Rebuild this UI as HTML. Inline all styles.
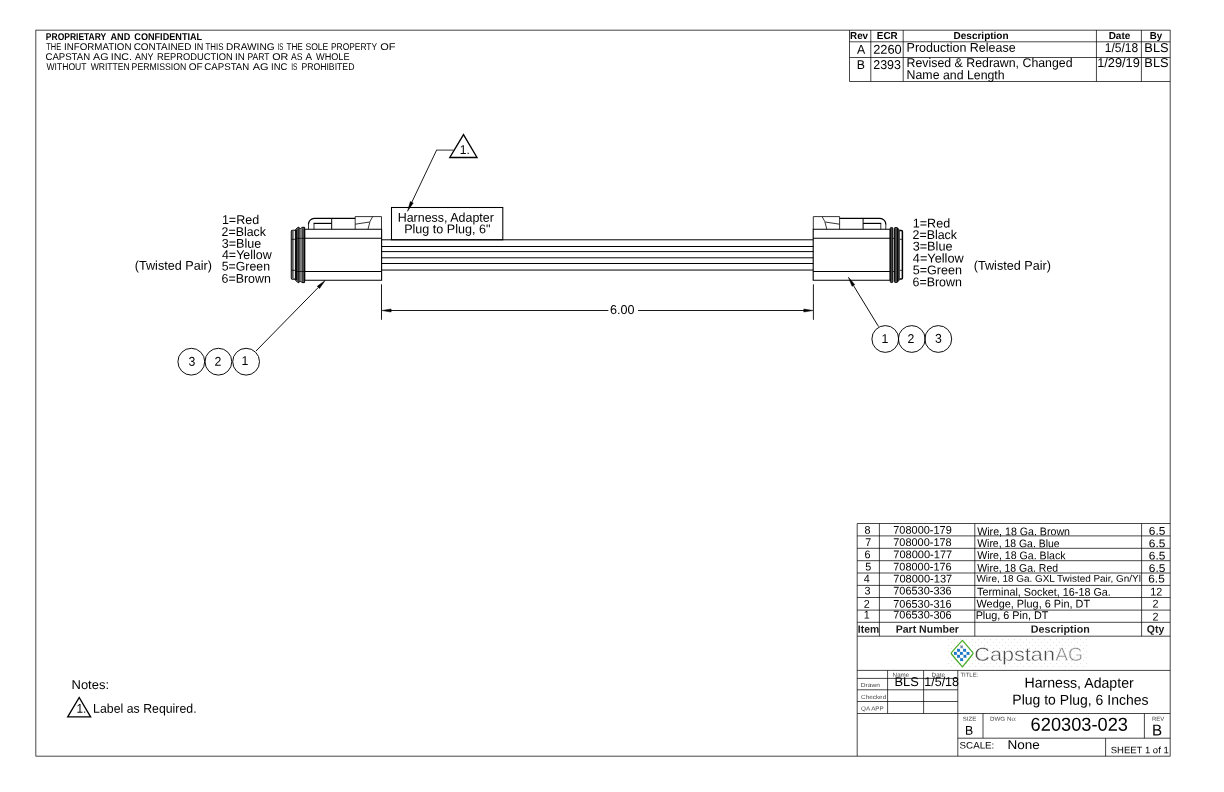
<!DOCTYPE html>
<html lang="en">
<head>
<meta charset="utf-8">
<title>620303-023 Harness, Adapter Plug to Plug, 6 Inches</title>
<style>
html,body{margin:0;padding:0;background:#fff;}
body{width:1224px;height:792px;overflow:hidden;font-family:"Liberation Sans",sans-serif;}
svg{display:block;position:absolute;left:0;top:0;}
svg text{white-space:pre;}
svg{will-change:transform;}
</style>
</head>
<body>
<svg width="1224" height="792" viewBox="0 0 1224 792">
<g fill="none" stroke="#000">
<rect x="35.86" y="30.14" width="1134.28" height="726.00" stroke-width="0.72"/>
<line x1="849.5" y1="30.14" x2="849.5" y2="81.5" stroke-width="0.72"/>
<line x1="870.8" y1="30.14" x2="870.8" y2="81.5" stroke-width="0.72"/>
<line x1="903.2" y1="30.14" x2="903.2" y2="81.5" stroke-width="0.72"/>
<line x1="1096.45" y1="30.14" x2="1096.45" y2="81.5" stroke-width="0.72"/>
<line x1="1141.4" y1="30.14" x2="1141.4" y2="81.5" stroke-width="0.72"/>
<line x1="849.5" y1="41.8" x2="1170.14" y2="41.8" stroke-width="0.72"/>
<line x1="849.5" y1="57.5" x2="1170.14" y2="57.5" stroke-width="0.72"/>
<line x1="849.5" y1="81.5" x2="1170.14" y2="81.5" stroke-width="0.72"/>
<path d="M463.5 134.6 L477.0 157.5 L449.8 157.5 Z" stroke-width="1.35"/>
<line x1="453.6" y1="150.1" x2="436.3" y2="150.1" stroke-width="0.8"/>
<line x1="411.79" y1="202.27" x2="436.6" y2="150.1" stroke-width="0.9"/>
<polygon points="407.50,211.30 413.24,202.96 410.35,201.58" fill="#000" stroke="#000" stroke-width="0.5" stroke-linejoin="miter"/>
<rect x="391.5" y="207.5" width="111.30" height="32.30" stroke-width="1.05"/>
<line x1="381.6" y1="239.8" x2="813.3" y2="239.8" stroke-width="1.0"/>
<line x1="381.6" y1="246.5" x2="813.3" y2="246.5" stroke-width="1.0"/>
<line x1="381.6" y1="251.6" x2="813.3" y2="251.6" stroke-width="1.0"/>
<line x1="381.6" y1="257.8" x2="813.3" y2="257.8" stroke-width="1.0"/>
<line x1="381.6" y1="263.5" x2="813.3" y2="263.5" stroke-width="1.0"/>
<line x1="381.6" y1="270.05" x2="813.3" y2="270.05" stroke-width="1.0"/>
<path d="M304.70 229.20 L381.60 229.20 L381.60 280.20 L304.70 280.20 Z" stroke-width="1.1"/>
<line x1="304.7" y1="238.3" x2="381.6" y2="238.3" stroke-width="1.1"/>
<line x1="304.7" y1="271.5" x2="381.6" y2="271.5" stroke-width="1.1"/>
<path d="M355.20 229.20 L355.20 216.60 L381.50 216.60 L381.50 229.20" stroke-width="0.8"/>
<path d="M308.50 229.2 L308.50 224.2" stroke-width="0.8"/>
<path d="M308.50 224.4 L308.50 224.2 A5.8 5.8 0 0 1 314.30 218.4 L355.20 218.4" stroke-width="1.2"/>
<line x1="331.7" y1="218.4" x2="331.7" y2="229.2" stroke-width="1.0"/>
<line x1="314.0" y1="229.2" x2="314.0" y2="223.4" stroke-width="0.8"/>
<line x1="313.6" y1="223.4" x2="331.7" y2="223.4" stroke-width="1.2"/>
<line x1="355.2" y1="224.2" x2="369.6" y2="222.0" stroke-width="0.8"/>
<path d="M372.70 216.60 L370.00 221.50 L368.00 229.20" stroke-width="0.8"/>
<path d="M890.10 229.20 L813.20 229.20 L813.20 280.20 L890.10 280.20 Z" stroke-width="1.1"/>
<line x1="890.1" y1="238.3" x2="813.2" y2="238.3" stroke-width="1.1"/>
<line x1="890.1" y1="271.5" x2="813.2" y2="271.5" stroke-width="1.1"/>
<path d="M839.60 229.20 L839.60 216.60 L813.30 216.60 L813.30 229.20" stroke-width="0.8"/>
<path d="M885.80 229.2 L885.80 224.2" stroke-width="0.8"/>
<path d="M885.80 224.4 L885.80 224.2 A5.8 5.8 0 0 0 880.00 218.4 L839.60 218.4" stroke-width="1.2"/>
<line x1="863.1" y1="218.4" x2="863.1" y2="229.2" stroke-width="1.0"/>
<line x1="880.8" y1="229.2" x2="880.8" y2="223.4" stroke-width="0.8"/>
<line x1="881.2" y1="223.4" x2="863.1" y2="223.4" stroke-width="1.2"/>
<line x1="839.6" y1="224.2" x2="825.2" y2="222.0" stroke-width="0.8"/>
<path d="M822.10 216.60 L824.80 221.50 L826.80 229.20" stroke-width="0.8"/>
<path d="M295.5 230.3 L292.4 230.3 Q291.3 230.3 291.3 231.4 L291.3 278.0 Q291.3 279.1 292.4 279.1 L295.5 279.1" stroke-width="1.1" fill="#fff"/>
<rect x="291.8" y="230.8" width="1.90" height="47.80" stroke-width="0" stroke="none" fill="#5c5c5c"/>
<line x1="291.4" y1="239.3" x2="295.6" y2="239.3" stroke-width="0.8"/>
<line x1="291.4" y1="270.3" x2="295.6" y2="270.3" stroke-width="0.8"/>
<path d="M295.4 229.8 L297.9 227.3 L299.0 227.3 L300.4 228.9 L301.9 227.3 L304.6 227.3 L304.6 282.6 L301.9 282.6 L300.4 281.0 L299.0 282.6 L297.9 282.6 L295.4 280.1 Z" stroke-width="1.0" fill="#808080" stroke-linejoin="round"/>
<rect x="295.6" y="229.6" width="1.50" height="50.60" stroke-width="0" stroke="none" fill="#0a0a0a"/>
<rect x="297.1" y="228.2" width="1.30" height="53.60" stroke-width="0" stroke="none" fill="#484848"/>
<rect x="298.4" y="228.2" width="1.00" height="53.60" stroke-width="0" stroke="none" fill="#050505"/>
<rect x="302.0" y="228.2" width="1.80" height="53.60" stroke-width="0" stroke="none" fill="#404040"/>
<line x1="296.5" y1="238.3" x2="304.7" y2="238.3" stroke-width="0.8"/>
<line x1="296.5" y1="271.5" x2="304.7" y2="271.5" stroke-width="0.8"/>
<rect x="890.3" y="227.5" width="2.50" height="55.00" stroke-width="1.0" fill="#444" rx="0.9"/>
<rect x="894.4" y="227.5" width="3.20" height="55.00" stroke-width="1.0" fill="#444" rx="0.9"/>
<path d="M897.6 228.2 L899.6 230.0 L899.6 279.8 L897.6 281.8 Z" stroke-width="0.8" fill="#333"/>
<path d="M899.8 230.4 L901.4 230.4 Q902.4 230.4 902.4 231.5 L902.4 278.0 Q902.4 279.0 901.4 279.0 L899.8 279.0" stroke-width="1.5" fill="#fff"/>
<line x1="892.8" y1="238.3" x2="894.4" y2="238.3" stroke-width="0.8"/>
<line x1="892.8" y1="271.5" x2="894.4" y2="271.5" stroke-width="0.8"/>
<line x1="899.8" y1="239.3" x2="902.8" y2="239.3" stroke-width="0.8"/>
<line x1="899.8" y1="270.3" x2="902.8" y2="270.3" stroke-width="0.8"/>
<line x1="381.5" y1="284.3" x2="381.5" y2="319.8" stroke-width="0.9"/>
<line x1="813.4" y1="284.3" x2="813.4" y2="319.8" stroke-width="0.9"/>
<line x1="390.0" y1="310.5" x2="608.4" y2="310.5" stroke-width="0.9"/>
<line x1="638.0" y1="310.5" x2="805.0" y2="310.5" stroke-width="0.9"/>
<polygon points="381.90,310.50 391.10,312.00 391.10,309.00" fill="#000" stroke="#000" stroke-width="0.5" stroke-linejoin="miter"/>
<polygon points="813.00,310.50 803.80,309.00 803.80,312.00" fill="#000" stroke="#000" stroke-width="0.5" stroke-linejoin="miter"/>
<circle cx="191.3" cy="361.7" r="13.4" stroke-width="0.95"/>
<circle cx="218.4" cy="361.7" r="13.4" stroke-width="0.95"/>
<circle cx="246.1" cy="361.7" r="13.4" stroke-width="0.95"/>
<line x1="318.34" y1="287.4" x2="256.0" y2="351.0" stroke-width="0.95"/>
<polygon points="325.20,280.40 317.20,286.28 319.48,288.52" fill="#000" stroke="#000" stroke-width="0.5" stroke-linejoin="miter"/>
<circle cx="885.3" cy="339.0" r="13.4" stroke-width="0.95"/>
<circle cx="911.75" cy="339.0" r="13.4" stroke-width="0.95"/>
<circle cx="938.3" cy="339.0" r="13.4" stroke-width="0.95"/>
<line x1="853.41" y1="285.46" x2="878.5" y2="326.5" stroke-width="0.95"/>
<polygon points="848.30,277.10 852.05,286.30 854.78,284.63" fill="#000" stroke="#000" stroke-width="0.5" stroke-linejoin="miter"/>
<path d="M79.2 697.5 L90.6 716.9 L67.7 716.9 Z" stroke-width="1.35"/>
<line x1="857.2" y1="523.5" x2="857.2" y2="756.14" stroke-width="0.72"/>
<line x1="879.4" y1="523.5" x2="879.4" y2="636.2" stroke-width="0.72"/>
<line x1="974.8" y1="523.5" x2="974.8" y2="636.2" stroke-width="0.72"/>
<line x1="1141.6" y1="523.5" x2="1141.6" y2="636.2" stroke-width="0.72"/>
<line x1="857.2" y1="523.5" x2="1170.14" y2="523.5" stroke-width="0.72"/>
<line x1="857.2" y1="535.9" x2="1170.14" y2="535.9" stroke-width="0.72"/>
<line x1="857.2" y1="548.3" x2="1170.14" y2="548.3" stroke-width="0.72"/>
<line x1="857.2" y1="560.7" x2="1170.14" y2="560.7" stroke-width="0.72"/>
<line x1="857.2" y1="573.0" x2="1170.14" y2="573.0" stroke-width="0.72"/>
<line x1="857.2" y1="585.4" x2="1170.14" y2="585.4" stroke-width="0.72"/>
<line x1="857.2" y1="597.5" x2="1170.14" y2="597.5" stroke-width="0.72"/>
<line x1="857.2" y1="610.1" x2="1170.14" y2="610.1" stroke-width="0.72"/>
<line x1="857.2" y1="622.3" x2="1170.14" y2="622.3" stroke-width="0.72"/>
<line x1="857.2" y1="636.2" x2="1170.14" y2="636.2" stroke-width="0.72"/>
<line x1="857.2" y1="670.4" x2="1170.14" y2="670.4" stroke-width="0.72"/>
<line x1="857.2" y1="678.4" x2="957.8" y2="678.4" stroke-width="0.72"/>
<line x1="857.2" y1="689.8" x2="957.8" y2="689.8" stroke-width="0.72"/>
<line x1="857.2" y1="701.5" x2="957.8" y2="701.5" stroke-width="0.72"/>
<line x1="857.2" y1="713.5" x2="1170.14" y2="713.5" stroke-width="0.72"/>
<line x1="957.8" y1="738.2" x2="1170.14" y2="738.2" stroke-width="0.72"/>
<line x1="887.6" y1="670.4" x2="887.6" y2="713.5" stroke-width="0.72"/>
<line x1="923.6" y1="670.4" x2="923.6" y2="713.5" stroke-width="0.72"/>
<line x1="957.8" y1="670.4" x2="957.8" y2="756.14" stroke-width="0.72"/>
<line x1="983.0" y1="713.5" x2="983.0" y2="738.2" stroke-width="0.72"/>
<line x1="1144.4" y1="713.5" x2="1144.4" y2="738.2" stroke-width="0.72"/>
<line x1="1105.6" y1="738.2" x2="1105.6" y2="756.14" stroke-width="0.72"/>
<defs><pattern id="dots" x="948" y="638" width="6" height="6" patternUnits="userSpaceOnUse"><rect x="0" y="1" width="1" height="1" fill="#e2e2e2" stroke="none"/><rect x="3" y="4" width="1" height="1" fill="#e2e2e2" stroke="none"/></pattern></defs>
<rect x="948" y="638" width="140" height="31" fill="url(#dots)" stroke="none"/>
<path d="M962.4 640.4 Q967.8 646.6 972.8 652.6 Q973.3 653.3 972.8 654.0 Q967.8 660.4 962.4 666.8 Q956.6 660.4 951.5 654.0 Q951.0 653.3 951.5 652.6 Q956.6 646.6 962.4 640.4 Z" stroke-width="1.25" stroke="#4cab2a" stroke-linejoin="round"/>
<rect x="957.05" y="648.85" width="2.90" height="2.90" stroke-width="0" stroke="none" fill="#1c78c8"/>
<rect x="963.15" y="648.85" width="2.90" height="2.90" stroke-width="0" stroke="none" fill="#1c78c8"/>
<rect x="953.95" y="651.95" width="2.90" height="2.90" stroke-width="0" stroke="none" fill="#1c78c8"/>
<rect x="959.95" y="651.95" width="2.90" height="2.90" stroke-width="0" stroke="none" fill="#1c78c8"/>
<rect x="966.55" y="651.95" width="2.90" height="2.90" stroke-width="0" stroke="none" fill="#1c78c8"/>
<rect x="957.05" y="654.85" width="2.90" height="2.90" stroke-width="0" stroke="none" fill="#1c78c8"/>
<rect x="963.45" y="654.85" width="2.90" height="2.90" stroke-width="0" stroke="none" fill="#1c78c8"/>
<rect x="960.15" y="658.15" width="2.90" height="2.90" stroke-width="0" stroke="none" fill="#1c78c8"/>
<rect x="960.2" y="645.3" width="2.80" height="3.00" stroke-width="0" stroke="none" fill="#a4a8b0"/>
<rect x="961.1" y="646.6" width="1.20" height="1.20" stroke-width="0" stroke="none" fill="#1c78c8"/>
</g>
<g class="t" fill="#000" stroke="none" font-family="'Liberation Sans', sans-serif">
<text transform="matrix(0.8679 0.0007 0 1.000 45.84 39.90)" font-size="9.8" font-weight="bold">PROPRIETARY</text>
<text transform="matrix(0.9298 0.0007 0 1.000 110.51 39.90)" font-size="9.8" font-weight="bold">AND</text>
<text transform="matrix(0.9301 0.0007 0 1.000 134.33 39.90)" font-size="9.8" font-weight="bold">CONFIDENTIAL</text>
<text transform="matrix(0.7579 0.0007 0 1.000 46.25 49.90)" font-size="9.8">THE</text>
<text transform="matrix(0.9940 0.0007 0 1.000 64.01 49.90)" font-size="9.8">INFORMATION</text>
<text transform="matrix(1.0125 0.0007 0 1.000 133.64 49.90)" font-size="9.8">CONTAINED</text>
<text transform="matrix(0.9259 0.0007 0 1.000 194.17 49.90)" font-size="9.8">IN</text>
<text transform="matrix(0.8065 0.0007 0 1.000 205.44 49.90)" font-size="9.8">THIS</text>
<text transform="matrix(1.0330 0.0007 0 1.000 226.07 49.90)" font-size="9.8">DRAWING</text>
<text transform="matrix(0.6203 0.0007 0 1.000 277.44 49.90)" font-size="9.8">IS</text>
<text transform="matrix(0.8368 0.0007 0 1.000 286.43 49.90)" font-size="9.8">THE</text>
<text transform="matrix(0.8757 0.0007 0 1.000 305.45 49.90)" font-size="9.8">SOLE</text>
<text transform="matrix(0.8588 0.0007 0 1.000 331.01 49.90)" font-size="9.8">PROPERTY</text>
<text transform="matrix(1.1216 0.0007 0 1.000 380.20 49.90)" font-size="9.8">OF</text>
<text transform="matrix(0.9808 0.0007 0 1.000 45.46 59.90)" font-size="9.8">CAPSTAN</text>
<text transform="matrix(1.0929 0.0007 0 1.000 93.10 59.90)" font-size="9.8">AG</text>
<text transform="matrix(1.0868 0.0007 0 1.000 110.72 59.90)" font-size="9.8">INC.</text>
<text transform="matrix(0.9223 0.0007 0 1.000 134.90 59.90)" font-size="9.8">ANY</text>
<text transform="matrix(0.9538 0.0007 0 1.000 157.04 59.90)" font-size="9.8">REPRODUCTION</text>
<text transform="matrix(0.9877 0.0007 0 1.000 235.01 59.90)" font-size="9.8">IN</text>
<text transform="matrix(0.8742 0.0007 0 1.000 247.50 59.90)" font-size="9.8">PART</text>
<text transform="matrix(1.0942 0.0007 0 1.000 272.21 59.90)" font-size="9.8">OR</text>
<text transform="matrix(0.8854 0.0007 0 1.000 290.90 59.90)" font-size="9.8">AS</text>
<text transform="matrix(1.0000 0.0007 0 1.000 305.38 59.90)" font-size="9.8">A</text>
<text transform="matrix(0.9339 0.0007 0 1.000 316.00 59.90)" font-size="9.8">WHOLE</text>
<text transform="matrix(0.8782 0.0007 0 1.000 46.40 69.90)" font-size="9.8">WITHOUT</text>
<text transform="matrix(0.8757 0.0007 0 1.000 90.70 69.90)" font-size="9.8">WRITTEN</text>
<text transform="matrix(0.8891 0.0007 0 1.000 131.59 69.90)" font-size="9.8">PERMISSION</text>
<text transform="matrix(1.0275 0.0007 0 1.000 188.74 69.90)" font-size="9.8">OF</text>
<text transform="matrix(0.9876 0.0007 0 1.000 204.36 69.90)" font-size="9.8">CAPSTAN</text>
<text transform="matrix(1.1227 0.0007 0 1.000 252.70 69.90)" font-size="9.8">AG</text>
<text transform="matrix(0.9649 0.0007 0 1.000 271.03 69.90)" font-size="9.8">INC</text>
<text transform="matrix(0.6709 0.0007 0 1.000 291.30 69.90)" font-size="9.8">IS</text>
<text transform="matrix(0.8866 0.0007 0 1.000 301.39 69.90)" font-size="9.8">PROHIBITED</text>
<text transform="matrix(1.0029 0.0007 0 1.040 850.05 39.00)" font-size="9.8" font-weight="bold">Rev</text>
<text transform="matrix(1.0126 0.0007 0 1.040 876.84 39.00)" font-size="9.8" font-weight="bold">ECR</text>
<text transform="matrix(1.0218 0.0007 0 1.030 953.54 39.00)" font-size="9.8" font-weight="bold">Description</text>
<text transform="matrix(1.0246 0.0007 0 1.030 1108.63 39.00)" font-size="9.8" font-weight="bold">Date</text>
<text transform="matrix(0.9958 0.0007 0 1.030 1149.65 39.00)" font-size="9.8" font-weight="bold">By</text>
<text transform="matrix(1.0000 0.0007 0 1.040 857.05 53.80)" font-size="12.3">A</text>
<text transform="matrix(1.0456 0.0007 0 1.040 873.17 53.80)" font-size="12.3">2260</text>
<text transform="matrix(1.0180 0.0007 0 1.030 906.58 51.80)" font-size="12.3">Production Release</text>
<text transform="matrix(0.9756 0.0007 0 1.040 1104.72 52.10)" font-size="12.3">1/5/18</text>
<text transform="matrix(1.0461 0.0007 0 1.040 1144.35 52.10)" font-size="12.3">BLS</text>
<text transform="matrix(1.0000 0.0007 0 1.040 856.85 68.90)" font-size="12.3">B</text>
<text transform="matrix(1.0153 0.0007 0 1.040 873.19 68.90)" font-size="12.3">2393</text>
<text transform="matrix(1.0034 0.0007 0 1.030 906.60 67.00)" font-size="12.3">Revised &amp; Redrawn, Changed</text>
<text transform="matrix(1.0031 0.0007 0 1.030 906.60 79.10)" font-size="12.3">Name and Length</text>
<text transform="matrix(1.0404 0.0007 0 1.040 1097.16 67.10)" font-size="12.3">1/29/19</text>
<text transform="matrix(1.0461 0.0007 0 1.040 1144.35 67.10)" font-size="12.3">BLS</text>
<text transform="matrix(0.9818 0.0007 0 1.040 459.72 154.00)" font-size="12.3">1.</text>
<text transform="matrix(1.0133 0.0007 0 1.030 397.69 221.80)" font-size="12.3">Harness, Adapter</text>
<text transform="matrix(1.0235 0.0007 0 1.030 404.18 233.20)" font-size="12.3">Plug to Plug, 6"</text>
<text transform="matrix(1.0262 0.0007 0 1.040 610.08 314.00)" font-size="12.3">6.00</text>
<text transform="matrix(1.0201 0.0007 0 1.030 221.88 223.90)" font-size="12.3">1=Red</text>
<text transform="matrix(1.0034 0.0007 0 1.030 221.60 236.00)" font-size="12.3">2=Black</text>
<text transform="matrix(1.0226 0.0007 0 1.030 221.74 247.80)" font-size="12.3">3=Blue</text>
<text transform="matrix(1.0133 0.0007 0 1.030 221.95 258.90)" font-size="12.3">4=Yellow</text>
<text transform="matrix(1.0011 0.0007 0 1.030 221.75 270.40)" font-size="12.3">5=Green</text>
<text transform="matrix(1.0084 0.0007 0 1.030 221.59 282.70)" font-size="12.3">6=Brown</text>
<text transform="matrix(1.0285 0.0007 0 1.030 134.73 269.70)" font-size="12.3">(Twisted Pair)</text>
<text transform="matrix(1.0229 0.0007 0 1.030 912.78 227.50)" font-size="12.3">1=Red</text>
<text transform="matrix(1.0103 0.0007 0 1.030 912.49 239.00)" font-size="12.3">2=Black</text>
<text transform="matrix(1.0332 0.0007 0 1.030 912.64 250.50)" font-size="12.3">3=Blue</text>
<text transform="matrix(1.0358 0.0007 0 1.030 912.84 262.50)" font-size="12.3">4=Yellow</text>
<text transform="matrix(1.0245 0.0007 0 1.030 912.64 274.30)" font-size="12.3">5=Green</text>
<text transform="matrix(1.0126 0.0007 0 1.030 912.49 286.30)" font-size="12.3">6=Brown</text>
<text transform="matrix(1.0285 0.0007 0 1.030 973.73 269.70)" font-size="12.3">(Twisted Pair)</text>
<text transform="matrix(1.0000 0.0007 0 1.040 188.43 365.70)" font-size="12.3">3</text>
<text transform="matrix(1.0000 0.0007 0 1.040 214.62 365.70)" font-size="12.3">2</text>
<text transform="matrix(1.0000 0.0007 0 1.040 241.62 365.00)" font-size="12.3">1</text>
<text transform="matrix(1.0000 0.0007 0 1.040 881.57 342.90)" font-size="12.3">1</text>
<text transform="matrix(1.0000 0.0007 0 1.040 907.62 342.90)" font-size="12.3">2</text>
<text transform="matrix(1.0000 0.0007 0 1.040 935.12 342.70)" font-size="12.3">3</text>
<text transform="matrix(1.0553 0.0007 0 1.030 71.54 689.00)" font-size="12.3">Notes:</text>
<text transform="matrix(0.9576 0.0007 0 1.040 76.54 712.80)" font-size="12.3">1.</text>
<text transform="matrix(1.0025 0.0007 0 1.030 93.10 712.80)" font-size="12.3">Label as Required.</text>
<text transform="matrix(1.0000 0.0007 0 1.040 864.40 533.70)" font-size="10.8">8</text>
<text transform="matrix(1.0159 0.0007 0 1.040 893.24 533.70)" font-size="10.8">708000-179</text>
<text transform="matrix(0.9861 0.0007 0 1.030 977.20 535.20)" font-size="10.8">Wire, 18 Ga. Brown</text>
<text transform="matrix(1.1064 0.0007 0 1.040 1148.75 534.70)" font-size="10.8">6.5</text>
<text transform="matrix(1.0000 0.0007 0 1.040 865.27 546.00)" font-size="10.8">7</text>
<text transform="matrix(1.0150 0.0007 0 1.040 893.24 546.00)" font-size="10.8">708000-178</text>
<text transform="matrix(0.9682 0.0007 0 1.030 977.20 547.10)" font-size="10.8">Wire, 18 Ga. Blue</text>
<text transform="matrix(1.1064 0.0007 0 1.040 1148.75 547.20)" font-size="10.8">6.5</text>
<text transform="matrix(1.0000 0.0007 0 1.040 864.38 558.30)" font-size="10.8">6</text>
<text transform="matrix(1.0247 0.0007 0 1.040 893.24 558.30)" font-size="10.8">708000-177</text>
<text transform="matrix(0.9811 0.0007 0 1.030 977.20 559.10)" font-size="10.8">Wire, 18 Ga. Black</text>
<text transform="matrix(1.1064 0.0007 0 1.040 1148.75 559.40)" font-size="10.8">6.5</text>
<text transform="matrix(1.0000 0.0007 0 1.040 865.30 570.50)" font-size="10.8">5</text>
<text transform="matrix(1.0150 0.0007 0 1.040 893.24 570.50)" font-size="10.8">708000-176</text>
<text transform="matrix(0.9698 0.0007 0 1.030 977.20 571.70)" font-size="10.8">Wire, 18 Ga. Red</text>
<text transform="matrix(1.1064 0.0007 0 1.040 1148.75 571.90)" font-size="10.8">6.5</text>
<text transform="matrix(1.0000 0.0007 0 1.040 863.85 582.50)" font-size="10.8">4</text>
<text transform="matrix(1.0247 0.0007 0 1.040 893.24 582.50)" font-size="10.8">708000-137</text>
<text transform="matrix(1.0580 0.0007 0 1.030 976.50 581.70)" font-size="9.4">Wire, 18 Ga. GXL Twisted Pair, Gn/Yl</text>
<text transform="matrix(1.0993 0.0007 0 1.040 1148.25 582.40)" font-size="10.8">6.5</text>
<text transform="matrix(1.0000 0.0007 0 1.040 864.62 594.40)" font-size="10.8">3</text>
<text transform="matrix(1.0150 0.0007 0 1.040 893.24 594.40)" font-size="10.8">706530-336</text>
<text transform="matrix(1.0008 0.0007 0 1.030 977.00 595.60)" font-size="10.8">Terminal, Socket, 16-18 Ga.</text>
<text transform="matrix(1.0000 0.0007 0 1.040 1150.20 595.60)" font-size="10.8">12</text>
<text transform="matrix(1.0000 0.0007 0 1.040 863.80 607.70)" font-size="10.8">2</text>
<text transform="matrix(1.0150 0.0007 0 1.040 893.24 607.70)" font-size="10.8">706530-316</text>
<text transform="matrix(1.0089 0.0007 0 1.030 976.50 607.40)" font-size="10.8">Wedge, Plug, 6 Pin, DT</text>
<text transform="matrix(1.0000 0.0007 0 1.040 1152.50 607.40)" font-size="10.8">2</text>
<text transform="matrix(1.0000 0.0007 0 1.040 863.85 618.60)" font-size="10.8">1</text>
<text transform="matrix(1.0150 0.0007 0 1.040 893.24 618.60)" font-size="10.8">706530-306</text>
<text transform="matrix(1.0021 0.0007 0 1.030 975.65 618.90)" font-size="10.8">Plug, 6 Pin, DT</text>
<text transform="matrix(1.0000 0.0007 0 1.040 1152.50 620.60)" font-size="10.8">2</text>
<text transform="matrix(1.0025 0.0007 0 1.030 857.85 632.80)" font-size="10.4" font-weight="bold" fill="#1a1a1a">Item</text>
<text transform="matrix(1.0162 0.0007 0 1.030 895.64 632.80)" font-size="10.4" font-weight="bold" fill="#1a1a1a">Part Number</text>
<text transform="matrix(1.0313 0.0007 0 1.030 1030.83 632.80)" font-size="10.4" font-weight="bold" fill="#1a1a1a">Description</text>
<text transform="matrix(1.0059 0.0007 0 1.030 1146.80 632.80)" font-size="10.4" font-weight="bold" fill="#1a1a1a">Qty</text>
<text transform="matrix(1.0997 0.0007 0 1.030 892.61 676.80)" font-size="5.7" fill="#444">Name</text>
<text transform="matrix(1.1189 0.0007 0 1.030 931.60 676.80)" font-size="5.7" fill="#444">Date</text>
<text transform="matrix(1.0461 0.0007 0 1.040 894.45 685.90)" font-size="12.3">BLS</text>
<text transform="matrix(1.0152 0.0007 0 1.040 924.29 685.90)" font-size="12.3">1/5/18</text>
<text transform="matrix(1.1629 0.0007 0 1.030 860.78 687.10)" font-size="5.7" fill="#444">Drawn</text>
<text transform="matrix(1.1207 0.0007 0 1.030 861.02 698.90)" font-size="5.7" fill="#444">Checked</text>
<text transform="matrix(1.1045 0.0007 0 1.030 861.02 710.50)" font-size="5.7" fill="#444">QA APP</text>
<text transform="matrix(1.0485 0.0007 0 1.030 960.40 676.70)" font-size="5.7" fill="#444">TITLE:</text>
<text transform="matrix(1.0184 0.0007 0 1.030 1024.48 687.60)" font-size="13.9">Harness, Adapter</text>
<text transform="matrix(1.0086 0.0007 0 1.030 1012.29 704.60)" font-size="13.9">Plug to Plug, 6 Inches</text>
<text transform="matrix(1.1064 0.0007 0 1.030 962.82 720.70)" font-size="5.5" fill="#444">SIZE</text>
<text transform="matrix(1.0000 0.0007 0 1.040 965.10 734.80)" font-size="12.3">B</text>
<text transform="matrix(1.1327 0.0007 0 1.030 989.99 720.70)" font-size="5.5" fill="#444">DWG No:</text>
<text transform="matrix(1.0143 0.0007 0 1.040 1030.59 730.70)" font-size="18.0">620303-023</text>
<text transform="matrix(1.0876 0.0007 0 1.030 1151.91 720.80)" font-size="5.5" fill="#444">REV</text>
<text transform="matrix(1.0000 0.0007 0 1.040 1152.07 735.40)" font-size="15.2">B</text>
<text transform="matrix(1.0877 0.0007 0 1.040 959.56 748.60)" font-size="9.0">SCALE:</text>
<text transform="matrix(1.1023 0.0007 0 1.030 1007.40 748.90)" font-size="12.3">None</text>
<text transform="matrix(1.0601 0.0007 0 1.040 1110.68 753.20)" font-size="9.0">SHEET 1 of 1</text>
<text transform="matrix(1.1399 0.0007 0 1.000 974.32 660.70)" font-size="19.0" fill="#484848" stroke="#fff" stroke-width="0.45">Capstan</text>
<text transform="matrix(1.0173 0.0007 0 1.000 1055.20 660.70)" font-size="19.0" fill="#8a8a8a" stroke="#fff" stroke-width="0.45">AG</text>
</g>
</svg>
</body>
</html>
